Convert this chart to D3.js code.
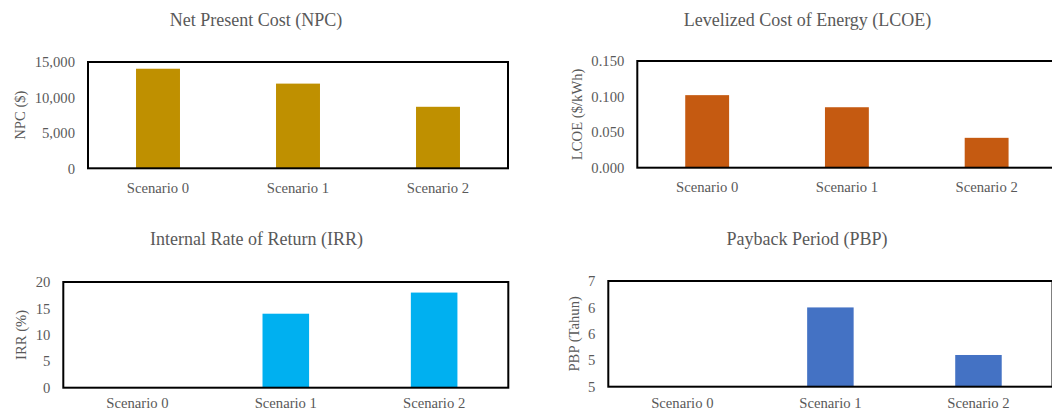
<!DOCTYPE html>
<html>
<head>
<meta charset="utf-8">
<script src="https://cdn.jsdelivr.net/npm/d3@7"></script>
<style>
  html, body { margin: 0; padding: 0; background: #ffffff; }
  svg { display: block; }
</style>
</head>
<body>
<svg id="chart" width="1052" height="410"></svg>
<script>
// Scenario categories shared by all four panels
const scenarios = ["Scenario 0", "Scenario 1", "Scenario 2"];

// Economic indicators per scenario
const npcValues  = [14050, 11950, 8680];   // $
const lcoeValues = [0.102, 0.085, 0.042];  // $/kWh
const irrValues  = [0, 14, 18];            // %
const pbpValues  = [0, 6.0, 5.1];          // years

// Tick values for each value axis
const npcTicks  = [0, 5000, 10000, 15000];
const lcoeTicks = [0, 0.05, 0.10, 0.15];
const irrTicks  = [0, 5, 10, 15, 20];
const pbpTicks  = [4.5, 5, 5.5, 6, 6.5];

const FONT = "'Liberation Serif', 'Times New Roman', 'DejaVu Serif', serif";
const TEXT_COLOR = "#595959";

const svg = d3.select("#chart");

const panels = [
  { title: "Net Present Cost (NPC)", yTitle: "NPC ($)", values: npcValues, ticks: npcTicks,
    fmt: d3.format(","), color: "#BF9000", catPad: 13.8,
    box: { x0: 88, x1: 508, y0: 62, y1: 168.3 }, titleX: 256, titleY: 26, yTitleX: 20 },
  { title: "Levelized Cost of Energy (LCOE)", yTitle: "LCOE ($/kWh)", values: lcoeValues, ticks: lcoeTicks,
    fmt: d3.format(".3f"), color: "#C55A11", catPad: 13.8,
    box: { x0: 637.3, x1: 1056.5, y0: 61, y1: 167.7 }, titleX: 807.5, titleY: 26, yTitleX: 576.5 },
  { title: "Internal Rate of Return (IRR)", yTitle: "IRR (%)", values: irrValues, ticks: irrTicks,
    fmt: d3.format("d"), color: "#00B0F0", catPad: 10.3,
    box: { x0: 63.3, x1: 508.3, y0: 282, y1: 387.7 }, titleX: 256.5, titleY: 245, yTitleX: 20.5 },
  { title: "Payback Period (PBP)", yTitle: "PBP (Tahun)", values: pbpValues, ticks: pbpTicks,
    fmt: d3.format(".0f"), color: "#4472C4", catPad: 11.3,
    box: { x0: 608.3, x1: 1052.5, y0: 281, y1: 386.7 }, titleX: 807, titleY: 245, yTitleX: 574 }
];

function styleText(sel, size) {
  sel.style("font-family", FONT)
     .style("font-size", size)
     .style("fill", TEXT_COLOR);
}

panels.forEach(p => {
  const b = p.box;
  const g = svg.append("g");

  const x = d3.scaleBand()
    .domain(scenarios)
    .range([b.x0, b.x1])
    .paddingInner(0.686)
    .paddingOuter(0.343);

  const y = d3.scaleLinear()
    .domain([p.ticks[0], p.ticks[p.ticks.length - 1]])
    .range([b.y1, b.y0])
    .clamp(true);

  // bars
  g.selectAll("rect.bar")
    .data(scenarios.map((s, i) => ({ s, v: p.values[i] })))
    .join("rect")
    .attr("class", "bar")
    .attr("x", d => x(d.s))
    .attr("width", x.bandwidth())
    .attr("y", d => y(d.v))
    .attr("height", d => Math.max(0, y(p.ticks[0]) - y(d.v)))
    .attr("fill", p.color);

  // value axis (labels only)
  const yAxis = g.append("g")
    .attr("transform", `translate(${b.x0},0)`)
    .call(d3.axisLeft(y).tickValues(p.ticks).tickFormat(p.fmt).tickSize(0).tickPadding(13));
  yAxis.select(".domain").remove();
  styleText(yAxis.selectAll("text"), "14.67px");

  // category axis (labels only)
  const xAxis = g.append("g")
    .attr("transform", `translate(0,${b.y1})`)
    .call(d3.axisBottom(x).tickSize(0).tickPadding(p.catPad));
  xAxis.select(".domain").remove();
  styleText(xAxis.selectAll("text"), "14.67px");

  // plot frame
  g.append("rect")
    .attr("x", b.x0)
    .attr("y", b.y0)
    .attr("width", b.x1 - b.x0)
    .attr("height", b.y1 - b.y0)
    .attr("fill", "none")
    .attr("stroke", "#000000")
    .attr("stroke-width", 2);

  // chart title
  g.append("text")
    .attr("x", p.titleX)
    .attr("y", p.titleY)
    .attr("text-anchor", "middle")
    .text(p.title)
    .call(styleText, "18px");

  // value axis title
  g.append("text")
    .attr("transform", `translate(${p.yTitleX},${(b.y0 + b.y1) / 2}) rotate(-90)`)
    .attr("text-anchor", "middle")
    .attr("dy", "0.35em")
    .text(p.yTitle)
    .call(styleText, "14.67px");
});
</script>
</body>
</html>
